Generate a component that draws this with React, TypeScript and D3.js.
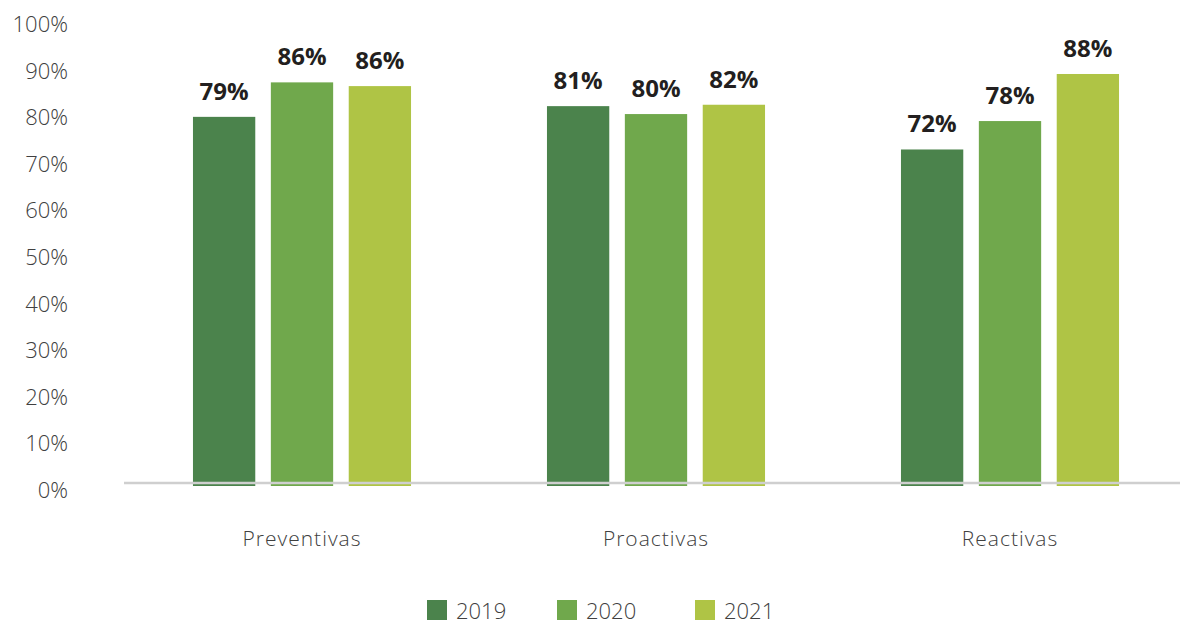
import React from "react";
import * as d3 from "d3";

const categories = ["Preventivas", "Proactivas", "Reactivas"];
const years = ["2019", "2020", "2021"];
const values2019 = [0.79, 0.813, 0.72];
const values2020 = [0.864, 0.796, 0.781];
const values2021 = [0.856, 0.816, 0.882];
const yTicks = [0, 0.1, 0.2, 0.3, 0.4, 0.5, 0.6, 0.7, 0.8, 0.9, 1.0];
const colors = ["#4b834c", "#70a84c", "#afc445"];

const W = 1183;
const H = 624;
const FONT = "'Open Sans', 'Noto Sans', sans-serif";

export default function App() {
  const series = [values2019, values2020, values2021];
  const x0 = d3
    .scaleBand<string>()
    .domain(categories)
    .range([125, 1187])
    .paddingInner(0.384)
    .paddingOuter(0.192);
  const x1 = d3
    .scaleBand<string>()
    .domain(years)
    .range([0, x0.bandwidth()])
    .paddingInner(0.2)
    .paddingOuter(0);
  const y = d3.scaleLinear().domain([0, 1]).range([485, 19]);
  const fmt = d3.format(".0%");
  const legendX = [427, 557, 695];

  return (
    <svg
      width={W}
      height={H}
      style={{ position: "absolute", left: 0, top: 0, background: "#fff" }}
      fontFamily={FONT}
    >
      {yTicks.map((t) => (
        <text
          key={t}
          x={68}
          y={y(t) + 4}
          textAnchor="end"
          dominantBaseline="central"
          fontSize={22}
          fontWeight={300}
          fill="#404040"
        >
          {fmt(t)}
        </text>
      ))}
      {categories.map((c, ci) => (
        <g key={c} transform={`translate(${x0(c)},0)`}>
          {years.map((yr, si) => {
            const v = series[si][ci];
            const bx = x1(yr)!;
            return (
              <g key={yr}>
                <rect
                  x={bx}
                  y={y(v)}
                  width={x1.bandwidth()}
                  height={y(0) - y(v) + 1}
                  fill={colors[si]}
                />
                <text
                  x={bx + x1.bandwidth() / 2}
                  y={y(v) - 17}
                  textAnchor="middle"
                  fontSize={24}
                  fontWeight={700}
                  fill="#231f20"
                >
                  {fmt(v)}
                </text>
              </g>
            );
          })}
          <text
            x={x0.bandwidth() / 2}
            y={546}
            textAnchor="middle"
            fontSize={21}
            fontWeight={300}
            letterSpacing={1}
            fill="#404040"
          >
            {c}
          </text>
        </g>
      ))}
      <line x1={124} x2={1180} y1={483} y2={483} stroke="#cfcfcf" strokeWidth={2.5} />
      {years.map((yr, i) => (
        <g key={yr} transform={`translate(${legendX[i]},0)`}>
          <rect x={0} y={600} width={20} height={20} fill={colors[i]} />
          <text x={29} y={619} fontSize={22} fontWeight={300} fill="#404040">
            {yr}
          </text>
        </g>
      ))}
    </svg>
  );
}
